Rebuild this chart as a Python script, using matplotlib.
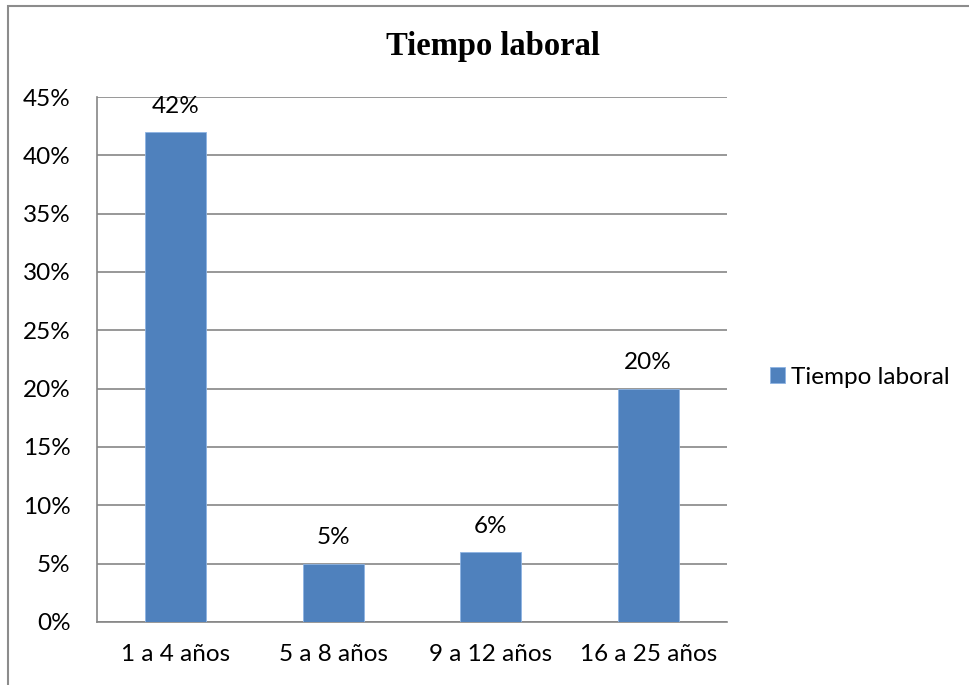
import matplotlib
matplotlib.use("Agg")
import matplotlib.pyplot as plt
from matplotlib.patches import Rectangle

# data
categories = ["1 a 4 años", "5 a 8 años", "9 a 12 años", "16 a 25 años"]
values = [42, 5, 6, 20]
y_ticks = [0, 5, 10, 15, 20, 25, 30, 35, 40, 45]
series_name = "Tiempo laboral"
title = "Tiempo laboral"

BAR_COLOR = "#4F81BD"
GRID_COLOR = "#868686"
FS = 17.5

plt.rcParams['font.family'] = ['Lato', 'DejaVu Sans']

fig = plt.figure(figsize=(9.69, 6.85), dpi=100)
ax = fig.add_axes([97 / 969, 1 - 622 / 685, 630 / 969, 525 / 685])

x = list(range(len(categories)))
bars = ax.bar(x, values, width=0.39, color=BAR_COLOR, edgecolor="#8EB4E3",
              linewidth=0.6, label=series_name, zorder=3)

# data labels above each bar
for xi, v in zip(x, values):
    ax.annotate(f"{v}%", (xi, v), xytext=(0, 11), textcoords="offset points",
                ha="center", va="bottom", fontsize=FS, color="black")

ax.set_xlim(-0.5, len(categories) - 0.5)
ax.set_ylim(0, 45)
ax.set_yticks(y_ticks)
ax.set_yticklabels([f"{t}%" for t in y_ticks])
ax.set_xticks(x)
ax.set_xticklabels(categories)
ax.tick_params(axis="y", length=0, pad=19, labelsize=FS)
ax.tick_params(axis="x", length=0, pad=16, labelsize=FS)

ax.grid(axis="y", color=GRID_COLOR, linewidth=1.2, zorder=0)
for side in ["top", "right"]:
    ax.spines[side].set_visible(False)
ax.spines["left"].set_color(GRID_COLOR)
ax.spines["bottom"].set_color(GRID_COLOR)
ax.spines["left"].set_linewidth(1.2)
ax.spines["bottom"].set_linewidth(1.2)

fig.text(493 / 969, 1 - 47 / 685, title, ha="center", va="center",
         fontsize=23.5, fontweight="bold", family="Liberation Serif")

fig.legend(handles=[bars], labels=[series_name], loc="center left",
           bbox_to_anchor=(770 / 969, 1 - 377 / 685), frameon=False,
           borderpad=0, borderaxespad=0,
           fontsize=FS, handlelength=0.62, handleheight=0.62, handletextpad=0.25)

# outer chart border (cut off at right and bottom in the reference)
fig.patches.append(Rectangle((8 / 969, -0.1), 1.2, 1 - 6 / 685 + 0.1,
                             transform=fig.transFigure, fill=False,
                             edgecolor="#8C8C8C", linewidth=1.5))

fig.savefig("out.png", dpi=100)
